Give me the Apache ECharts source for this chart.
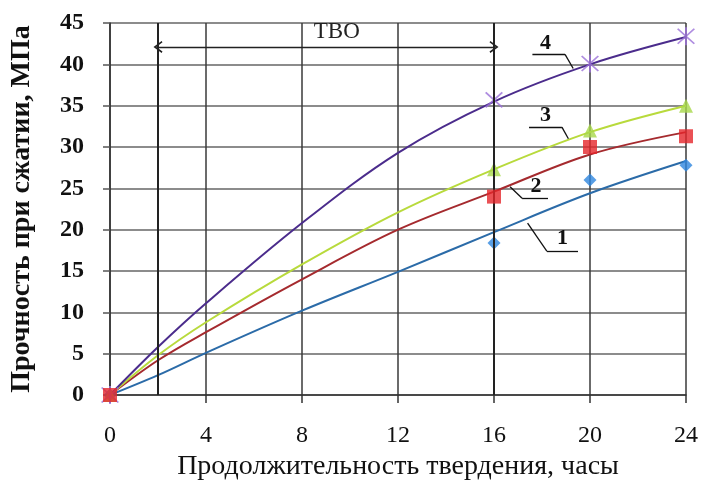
<!DOCTYPE html>
<html><head><meta charset="utf-8">
<script src="https://cdn.jsdelivr.net/npm/echarts@6/dist/echarts.min.js"></script>
<style>html,body{margin:0;padding:0;background:#fff}#c{width:704px;height:485px}</style>
</head><body><div id="c"></div>
<script>
// Trend-curve sample points
const xCurve = [0, 2, 4, 8, 12, 16, 20, 24];
const curve1 = [0, 2.4, 5.1, 10.2, 14.9, 19.7, 24.4, 28.3];
const curve2 = [0, 4.2, 7.6, 14.0, 20.0, 24.6, 29.1, 31.8];
const curve3 = [0, 4.8, 8.8, 15.8, 22.1, 27.3, 31.8, 35.0];
const curve4 = [0, 5.8, 11.1, 20.8, 29.3, 35.5, 40.0, 43.3];
// Measured points
const xMeasured = [0, 16, 20, 24];
const meas1 = [0, 18.4, 26.0, 27.8];
const meas2 = [0, 24.0, 30.0, 31.3];
const meas3 = [0, 27.3, 32.0, 35.0];
const meas4 = [0, 35.7, 40.1, 43.4];
const seriesLabels = ['1', '2', '3', '4'];
const xTicks = [0, 4, 8, 12, 16, 20, 24];
const yTicks = [0, 5, 10, 15, 20, 25, 30, 35, 40, 45];
const tboText = 'ТВО';
const xTitle = 'Продолжительность твердения, часы';
const yTitle = 'Прочность при сжатии, МПа';

const FONT = '"Liberation Serif","DejaVu Serif",serif';
const zip = (xs, ys) => xs.map((x, i) => [x, ys[i]]);

const lineColors = ['#2B6BA8', '#A52A2E', '#B8DA3C', '#4B2C8C'];
const markColors = ['#2E86DE', '#E5262B', '#A8D84A', '#9B70D8'];
const symbols = ['diamond', 'rect', 'triangle',
  'path://M-0.6,-6L0.6,-6L0.6,6L-0.6,6Z M-5.4,-4.6L-4.6,-5.4L5.4,4.6L4.6,5.4Z M4.6,-5.4L5.4,-4.6L-4.6,5.4L-5.4,4.6Z'];
const symSizes = [13, 14, 14, 18];
const curves = [curve1, curve2, curve3, curve4];
const meas = [meas1, meas2, meas3, meas4];

// annotation anchors (data units)
const leaders = [
  {t: [18.85, 18.9], a: [18.2, 17.4], b: [19.5, 17.4], c: [17.4, 20.8], from: 'a'},
  {t: [17.75, 25.2], a: [17.17, 23.8], b: [18.25, 23.8], c: [16.67, 25.2], from: 'a'},
  {t: [18.15, 33.8], a: [17.46, 32.4], b: [18.83, 32.4], c: [19.1, 31.0], from: 'b'},
  {t: [18.15, 42.6], a: [17.6, 41.2], b: [18.96, 41.2], c: [19.3, 39.5], from: 'b'}
];

const series = [];
curves.forEach((c, i) => {
  series.push({type: 'line', data: zip(xCurve, c), smooth: 0.35, symbol: 'none',
    lineStyle: {color: lineColors[i], width: 2}, z: 3});
});
meas.forEach((m, i) => {
  series.push({type: 'scatter', data: zip(xMeasured, m), symbol: symbols[i],
    symbolSize: symSizes[i], itemStyle: {color: markColors[i]}, z: 4 + (i === 1 ? 2 : 0)});
});

const lineSegs = [];
leaders.forEach(L => {
  lineSegs.push([{coord: L.a}, {coord: L.b}]);
  lineSegs.push([{coord: L.from === 'a' ? L.a : L.b}, {coord: L.c}]);
});
const chev = 'path://M0,0L6,9L4.6,10L0,3.2L-4.6,10L-6,9Z';
series.push({type: 'line', data: [], z: 5,
  markLine: {silent: true, animation: false, symbol: 'none', label: {show: false},
    lineStyle: {color: '#111', width: 1.3, type: 'solid'}, data: lineSegs},
  markPoint: {silent: true, animation: false, symbol: 'circle', symbolSize: 0,
    data: leaders.map((L, i) => ({coord: L.t, value: seriesLabels[i],
      label: {show: true, formatter: seriesLabels[i], color: '#111', fontFamily: FONT,
        fontWeight: 'bold', fontSize: 22, position: 'inside'}}))
    .concat([{coord: [9.45, 43.9], label: {show: true, formatter: tboText, color: '#222',
      fontFamily: FONT, fontSize: 23, position: 'inside'}}])}
});
// vertical boundaries at 2 and 16 and the TBO arrow
series.push({type: 'line', data: [], z: 2,
  markLine: {silent: true, animation: false, label: {show: false},
    lineStyle: {color: '#222', width: 2, type: 'solid'},
    data: [
      [{coord: [2, 0], symbol: 'none'}, {coord: [2, 45], symbol: 'none'}],
      [{coord: [16, 0], symbol: 'none'}, {coord: [16, 45], symbol: 'none'}],
      [{coord: [2, 42.1], symbol: chev, symbolSize: [12, 9]},
       {coord: [16, 42.1], symbol: chev, symbolSize: [12, 9], lineStyle: {width: 1.3}}]
    ]}
});

const chart = echarts.init(document.getElementById('c'), null, {renderer: 'canvas'});
chart.setOption({
  animation: false,
  backgroundColor: '#fff',
  grid: {left: 110, right: 18, top: 23, bottom: 90, containLabel: false, outerBoundsMode: 'none'},
  xAxis: {type: 'value', min: 0, max: 24, interval: 4,
    name: xTitle, nameLocation: 'middle', nameGap: 57,
    nameTextStyle: {fontFamily: FONT, fontSize: 28, color: '#111'},
    axisLine: {show: true, lineStyle: {color: '#333', width: 1.5}},
    axisTick: {show: true, length: 8, lineStyle: {color: '#333', width: 1.5}},
    axisLabel: {fontFamily: FONT, fontSize: 24, color: '#111', margin: 29,
      formatter: v => xTicks.includes(v) ? String(v) : ''},
    splitLine: {show: true, lineStyle: {color: '#3a3a3a', width: 1.5}}},
  yAxis: {type: 'value', min: 0, max: 45, interval: 5,
    name: yTitle, nameLocation: 'middle', nameGap: 74, nameRotate: 90,
    nameTextStyle: {fontFamily: FONT, fontSize: 28, fontWeight: 'bold', color: '#111'},
    axisLine: {show: true, lineStyle: {color: '#333', width: 1.5}},
    axisTick: {show: true, length: 7, lineStyle: {color: '#555', width: 1.5}},
    axisLabel: {fontFamily: FONT, fontSize: 24, fontWeight: 'bold', color: '#111', margin: 26,
      formatter: v => yTicks.includes(v) ? String(v) : ''},
    splitLine: {show: true, lineStyle: {color: '#666', width: 1.5}}},
  series: series
});
</script></body></html>
